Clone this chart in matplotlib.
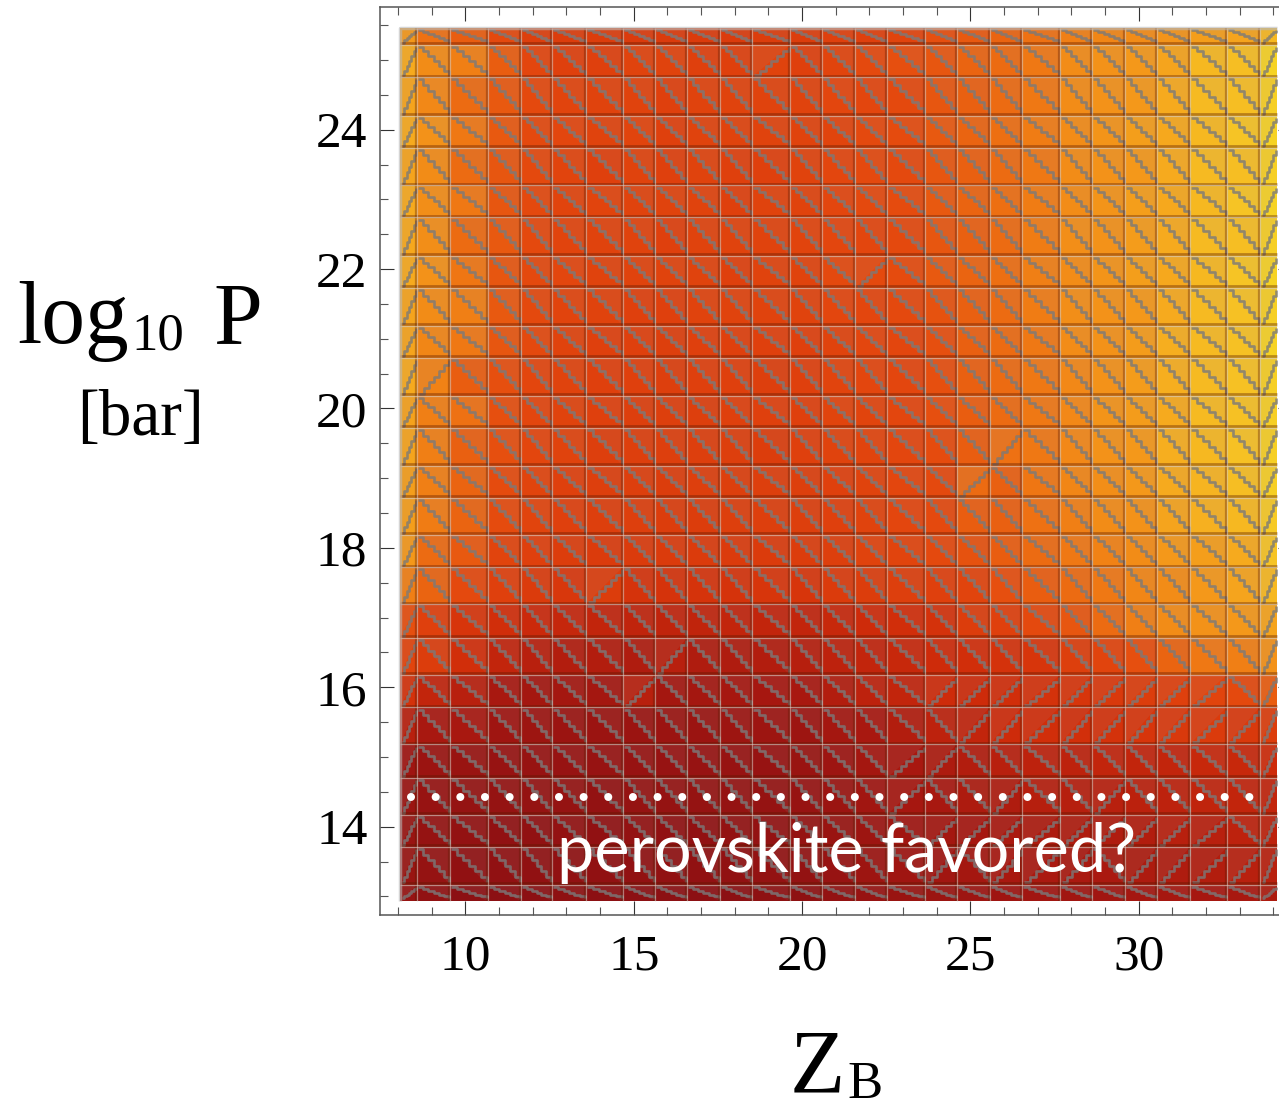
from matplotlib import pyplot as plt
from matplotlib.collections import LineCollection, PolyCollection
from matplotlib.colors import LinearSegmentedColormap
import numpy as np

# cell edges of the mesh
z_edges = [8.05, 8.56, 9.54, 10.67, 11.65, 12.57, 13.58, 14.68, 15.63, 16.58, 17.56, 18.51, 19.64, 20.59,
           21.57, 22.52, 23.65, 24.60, 25.59, 26.54, 27.67, 28.62, 29.60, 30.55, 31.53, 32.63, 33.61, 34.10]
p_edges = [25.46, 25.22, 24.75, 24.20, 23.74, 23.20, 22.74, 22.19, 21.73, 21.19, 20.73, 20.18, 19.72, 19.18,
           18.72, 18.19, 17.72, 17.19, 16.71, 16.18, 15.71, 15.18, 14.70, 14.17, 13.71, 13.17, 12.94]

# colour level per cell, top row first
levels = [
    [74, 62, 56, 50, 45, 44, 44, 43, 43, 43, 43, 44, 44, 46, 46, 48, 52, 55, 58, 62, 66, 68, 70, 73, 76, 78, 84],
    [80, 70, 66, 56, 49, 46, 46, 47, 47, 46, 46, 47, 46, 48, 50, 52, 54, 58, 60, 64, 70, 72, 74, 78, 84, 86, 94],
    [78, 69, 60, 55, 50, 48, 47, 47, 46, 47, 47, 47, 47, 49, 49, 50, 54, 57, 60, 64, 70, 72, 74, 80, 85, 86, 92],
    [80, 72, 64, 55, 50, 49, 47, 48, 46, 47, 47, 47, 47, 48, 50, 51, 55, 58, 61, 65, 70, 73, 76, 79, 84, 88, 94],
    [78, 70, 60, 54, 50, 48, 46, 47, 46, 47, 46, 46, 47, 49, 50, 50, 54, 57, 60, 64, 70, 72, 74, 80, 85, 86, 92],
    [80, 71, 64, 54, 50, 48, 48, 47, 47, 47, 46, 47, 47, 49, 50, 51, 55, 58, 61, 65, 70, 73, 76, 79, 84, 88, 94],
    [79, 71, 60, 55, 50, 48, 47, 47, 46, 47, 47, 47, 48, 49, 49, 50, 54, 57, 60, 65, 71, 72, 75, 80, 85, 86, 92],
    [80, 72, 63, 54, 50, 49, 47, 47, 47, 47, 46, 47, 47, 50, 50, 51, 55, 58, 61, 66, 70, 73, 76, 79, 84, 88, 94],
    [78, 70, 66, 55, 50, 48, 47, 46, 46, 47, 47, 47, 47, 49, 49, 50, 53, 57, 60, 65, 71, 72, 74, 80, 85, 87, 92],
    [78, 68, 64, 54, 50, 47, 46, 46, 45, 46, 46, 46, 46, 47, 49, 49, 52, 57, 60, 64, 70, 72, 75, 81, 85, 87, 94],
    [80, 67, 56, 52, 49, 47, 46, 46, 45, 46, 46, 45, 46, 48, 49, 49, 52, 57, 60, 64, 69, 72, 75, 81, 85, 87, 92],
    [77, 66, 62, 52, 49, 47, 46, 45, 45, 45, 46, 46, 46, 48, 48, 49, 52, 56, 60, 64, 69, 73, 75, 80, 85, 87, 92],
    [78, 66, 57, 52, 49, 47, 45, 45, 45, 45, 45, 44, 46, 47, 48, 49, 51, 56, 62, 64, 69, 72, 74, 81, 84, 87, 92],
    [76, 66, 58, 51, 48, 46, 45, 45, 44, 45, 45, 45, 45, 46, 47, 49, 50, 60, 57, 63, 68, 71, 74, 80, 83, 86, 92],
    [76, 65, 58, 51, 48, 46, 45, 45, 44, 44, 45, 45, 45, 46, 47, 49, 50, 56, 57, 62, 66, 70, 72, 78, 82, 84, 90],
    [74, 60, 55, 48, 46, 44, 43, 43, 43, 43, 43, 43, 44, 45, 47, 48, 50, 53, 56, 60, 64, 67, 70, 74, 76, 80, 88],
    [66, 58, 50, 46, 43, 41, 44, 39, 39, 39, 39, 40, 40, 43, 44, 45, 46, 48, 52, 56, 60, 64, 68, 70, 74, 78, 84],
    [52, 46, 40, 36, 33, 31, 30, 29, 29, 29, 30, 30, 30, 32, 34, 36, 38, 44, 46, 50, 54, 60, 66, 70, 72, 74, 78],
    [48, 44, 36, 30, 26, 24, 24, 23, 26, 23, 23, 24, 25, 28, 30, 32, 34, 36, 38, 40, 45, 48, 52, 58, 64, 66, 72],
    [38, 30, 26, 20, 18, 18, 18, 26, 18, 18, 19, 19, 20, 24, 28, 30, 34, 34, 36, 38, 40, 42, 44, 46, 48, 50, 56],
    [26, 20, 20, 16, 15, 14, 14, 14, 14, 14, 15, 15, 15, 18, 20, 24, 28, 30, 34, 36, 37, 38, 40, 42, 43, 42, 44],
    [16, 14, 13, 12, 12, 12, 12, 12, 12, 12, 12, 12, 13, 15, 18, 20, 22, 24, 26, 28, 28, 30, 30, 30, 32, 32, 34],
    [14, 12, 11, 11, 11, 11, 10, 11, 11, 11, 11, 11, 12, 14, 17, 19, 20, 22, 23, 25, 25, 26, 27, 28, 29, 30, 30],
    [13, 11, 10, 9, 9, 10, 9, 10, 9, 9, 10, 10, 11, 13, 15, 17, 18, 19, 21, 22, 23, 23, 24, 26, 26, 28, 28],
    [13, 11, 9, 9, 9, 9, 9, 9, 9, 9, 9, 10, 10, 12, 15, 16, 17, 18, 20, 21, 21, 21, 22, 23, 24, 26, 26],
    [12, 9, 7, 7, 7, 8, 7, 7, 7, 7, 7, 8, 8, 10, 12, 13, 14, 15, 16, 17, 17, 17, 18, 19, 19, 20, 22],
]

# cells whose contour runs the other way, (row, col)
flipped_cells = [(1, 11), (7, 14), (10, 1), (12, 18), (13, 17), (16, 6), (18, 8), (19, 7),
                 (19, 16), (19, 17), (19, 18), (19, 19), (19, 20), (19, 21), (19, 22), (19, 23), (19, 24),
                 (20, 17), (20, 18), (20, 19), (20, 20), (20, 21), (20, 22), (20, 23), (20, 24), (20, 25),
                 (21, 15), (21, 16), (22, 15), (22, 18), (22, 21),
                 (23, 16), (23, 17), (23, 18), (23, 19), (23, 20), (23, 21), (23, 22), (23, 23), (23, 24),
                 (24, 16), (24, 18), (24, 19), (24, 20), (24, 22), (24, 23), (24, 24), (24, 25)]

x_major = [10, 15, 20, 25, 30]
y_major = [14, 16, 18, 20, 22, 24]

W, H = 1279, 1102
heat = LinearSegmentedColormap.from_list('heat', [(0.0, '#7e0c14'), (0.2, '#a81810'), (0.35, '#d02c0a'),
                                                 (0.5, '#e4480e'), (0.65, '#f07c14'), (0.8, '#f6aa1e'),
                                                 (0.9, '#f6ca26'), (1.0, '#f6e020')])

fig = plt.figure(figsize=(W / 100, H / 100), dpi=100)
# the right frame sits past the edge of the picture, only its long ticks show
ax = fig.add_axes([380 / W, 1 - 914.5 / H, (1292.5 - 380) / W, (914.5 - 7) / H])

ax.pcolormesh(z_edges, p_edges, np.array(levels), cmap=heat, vmin=0, vmax=100, shading='flat', zorder=1)

tints = []
stairs = []
for r in range(len(levels)):
    for c in range(len(levels[0])):
        x0, x1 = z_edges[c], z_edges[c + 1]
        y1, y0 = p_edges[r], p_edges[r + 1]
        flip = (r, c) in flipped_cells or c == 0 or c == len(levels[0]) - 1
        if flip:
            tints.append([(x0, y0), (x0, y1), (x1, y1)])
            xs = np.linspace(x0 + 0.06, x1 - 0.03, 7)
            ys = np.linspace(y0 + 0.03, y1 - 0.03, 7)
        else:
            tints.append([(x0, y1), (x1, y1), (x1, y0)])
            xs = np.linspace(x0 + 0.03, x1 - 0.03, 7)
            ys = np.linspace(y1 - 0.03, y0 + 0.03, 7)
        pts = []
        for i in range(6):
            pts.append((xs[i], ys[i]))
            pts.append((xs[i + 1], ys[i]))
        pts.append((xs[-1], ys[-1]))
        stairs.append(pts)

ax.add_collection(PolyCollection(tints, facecolors='#a89898', edgecolors='none', alpha=0.12, zorder=2))
ax.add_collection(LineCollection(stairs, colors='#7a7a7a', linewidths=1.9, alpha=0.8, zorder=3,
                                 joinstyle='round'))

# dark lower and light upper rim of each cell
ax.hlines(np.array(p_edges[1:-1]) + 0.025, z_edges[0], z_edges[-1], color='#5a1800', lw=2.0, alpha=0.38, zorder=4)
ax.vlines(np.array(z_edges[1:-1]) - 0.03, p_edges[-1], p_edges[0], color='#5a1800', lw=1.6, alpha=0.35, zorder=4)
ax.hlines(p_edges[1:-1], z_edges[0], z_edges[-1], color='#d8d0c8', lw=0.9, alpha=0.6, zorder=4)
ax.vlines(z_edges[1:-1], p_edges[-1], p_edges[0], color='#d8d0c8', lw=0.9, alpha=0.55, zorder=4)

# soft grey rim of the pasted image
ax.plot([z_edges[0], z_edges[0], z_edges[-1]], [p_edges[-1], p_edges[0], p_edges[0]],
        color='#b8b8b8', lw=2.5, alpha=0.6, zorder=5, solid_capstyle='butt')

# white dotted line and note
ax.plot([8.38, 33.45], [14.42, 14.42], color='white', lw=5.8, zorder=6,
        linestyle=(0, (0.001, 3.06)), dash_capstyle='round')
fig.text(557 / W, 1 - 872 / H, 'perovskite favored?', color='white', family='Lato', fontsize=48, zorder=7)

ax.set_xlim(7.46, 34.57)
ax.set_ylim(12.74, 25.76)
ax.set_xticks(x_major)
ax.set_yticks(y_major)
ax.set_xticks(range(8, 35), minor=True)
ax.set_yticks(np.arange(13, 25.6, 0.5), minor=True)
ax.tick_params(which='major', direction='in', top=True, right=True, length=10, width=0.8, color='#333333',
               labelsize=37, labelfontfamily='Liberation Serif')
ax.tick_params(axis='x', which='major', pad=14)
ax.tick_params(axis='y', which='major', pad=9)
ax.tick_params(which='minor', direction='in', top=True, right=True, length=5.8, width=0.8, color='#555555')
for s in ax.spines.values():
    s.set_linewidth(1.1)
    s.set_color('#555555')

serif = 'Liberation Serif'
fig.text(17 / W, 1 - 343 / H, 'log', family=serif, fontsize=63)
fig.text(131 / W, 1 - 350 / H, '10', family=serif, fontsize=38)
fig.text(213 / W, 1 - 343 / H, 'P', family=serif, fontsize=63)
fig.text(140 / W, 1 - 435 / H, '[bar]', family=serif, fontsize=47, ha='center')
fig.text(790 / W, 1 - 1092 / H, 'Z', family=serif, fontsize=65)
fig.text(847 / W, 1 - 1098 / H, 'B', family=serif, fontsize=38)

fig.savefig('out.png', dpi=100)
